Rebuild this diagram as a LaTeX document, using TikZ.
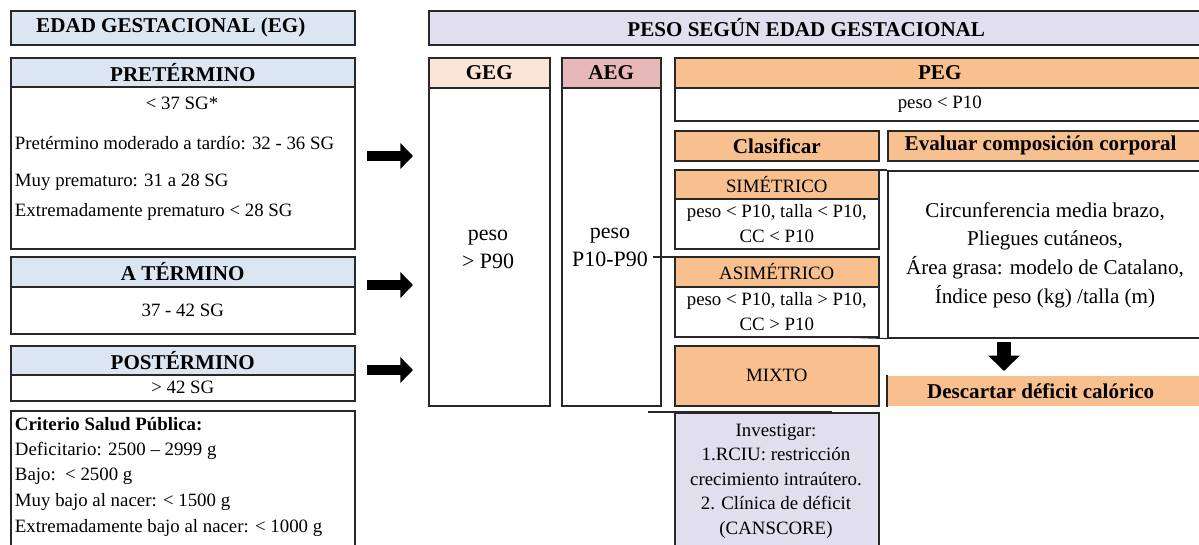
\documentclass[tikz,border=0pt]{standalone}
\usepackage{fontspec}
\setmainfont{Liberation Serif}
\definecolor{HeadBlue}{RGB}{220,230,241}
\definecolor{Lavender}{RGB}{225,222,237}
\definecolor{PeachLight}{RGB}{252,228,214}
\definecolor{RoseHead}{RGB}{230,184,183}
\definecolor{OrangeCell}{RGB}{248,192,142}
\definecolor{LineGray}{RGB}{40,40,40}
\usetikzlibrary{arrows.meta}
\def\pu{0.025cm}
\tikzset{
  box/.style={draw=LineGray, line width=1.1pt, inner sep=0pt, anchor=north west},
  hd/.style={font=\fontsize{15}{18}\selectfont\bfseries},
  tx/.style={font=\fontsize{13.4}{17.4}\selectfont},
  bigtx/.style={font=\fontsize{15.6}{20}\selectfont},
  blockarrow/.style={line width=6.5pt, -{Triangle[length=9pt,width=18pt]}},
}

\begin{document}
\begin{tikzpicture}[x=0.025cm, y=-0.025cm]
  \useasboundingbox (0,0) rectangle (1199,545);
  % Left column: edad gestacional
  \node[box, hd, fill=HeadBlue, minimum width=344*\pu, minimum height=34*\pu] (eg) at (10,10) {\hspace*{-17pt}EDAD GESTACIONAL (EG)};
  \node[box, hd, fill=HeadBlue, minimum width=344*\pu, minimum height=29*\pu] (pret) at (10,57) {PRETÉRMINO};
  \node[box, minimum width=344*\pu, minimum height=162*\pu] (pretbody) at (10,86) {};
  \node[tx] (pret0) at (182,103) {< 37 SG*};
  \node[tx, anchor=west] (pret1) at (10,143) {Pretérmino moderado a tardío: 32 - 36 SG};
  \node[tx, anchor=west] (pret2) at (10,182) {Muy prematuro: 31 a 28 SG};
  \node[tx, anchor=west] (pret3) at (10,212) {Extremadamente prematuro < 28 SG};
  \node[box, hd, fill=HeadBlue, minimum width=344*\pu, minimum height=30*\pu] (term) at (10,256) {A TÉRMINO};
  \node[box, tx, minimum width=344*\pu, minimum height=47*\pu] (termbody) at (10,286) {37 - 42 SG};
  \node[box, hd, fill=HeadBlue, minimum width=344*\pu, minimum height=29*\pu] (post) at (10,345) {POSTÉRMINO};
  \node[box, tx, minimum width=344*\pu, minimum height=26*\pu] (postbody) at (10,374) {> 42 SG};
  % Criterio salud publica
  \node[box, minimum width=344*\pu, minimum height=145*\pu] (crit) at (10,410) {};
  \node[tx, anchor=west, font=\fontsize{13.4}{17.4}\selectfont\bfseries] (crit0) at (10,424) {Criterio Salud Pública:};
  \node[tx, anchor=west] (crit1) at (10,451) {Deficitario: 2500 – 2999 g};
  \node[tx, anchor=west] (crit2) at (10,476) {Bajo:\ \ < 2500 g};
  \node[tx, anchor=west] (crit3) at (10,502) {Muy bajo al nacer: < 1500 g};
  \node[tx, anchor=west] (crit4) at (10,528) {Extremadamente bajo al nacer: < 1000 g};
  % Arrows to the weight columns
  \coordinate (a1) at (367,156); \coordinate (b1) at (413,156);
  \coordinate (a2) at (367,285); \coordinate (b2) at (413,285);
  \coordinate (a3) at (367,370); \coordinate (b3) at (413,370);
  \draw[blockarrow] (a1) -- (b1);
  \draw[blockarrow] (a2) -- (b2);
  \draw[blockarrow] (a3) -- (b3);
  % Right block: peso segun edad gestacional
  \node[box, hd, fill=Lavender, minimum width=776*\pu, minimum height=34*\pu] (peso) at (428,10) {\hspace*{-15pt}PESO SEGÚN EDAD GESTACIONAL};
  % GEG and AEG columns
  \node[box, hd, fill=PeachLight, minimum width=121*\pu, minimum height=30*\pu] (geg) at (428,57) {GEG};
  \node[box, minimum width=121*\pu, minimum height=318*\pu] (gegbody) at (428,87) {};
  \node[bigtx, align=center] (gegtx) at (488,249) {peso\\> P90};
  \node[box, hd, fill=RoseHead, minimum width=99*\pu, minimum height=30*\pu] (aeg) at (561,57) {AEG};
  \node[box, minimum width=99*\pu, minimum height=318*\pu] (aegbody) at (561,87) {};
  \node[bigtx, align=center] (aegtx) at (610,247) {peso\\P10-P90};
  % PEG
  \node[box, hd, fill=OrangeCell, minimum width=530*\pu, minimum height=30*\pu] (peg) at (674,57) {PEG};
  \node[box, tx, minimum width=530*\pu, minimum height=33*\pu] (pegbody) at (674,87) {peso < P10};
  \node[box, hd, fill=OrangeCell, minimum width=204*\pu, minimum height=30*\pu] (clas) at (674,130) {Clasificar};
  \node[box, hd, fill=OrangeCell, minimum width=317*\pu, minimum height=30*\pu] (eval) at (887,130) {\hspace*{-8pt}Evaluar composición corporal};
  % Clasificar
  \node[box, tx, fill=OrangeCell, minimum width=204*\pu, minimum height=29*\pu] (sim) at (674,169) {SIMÉTRICO};
  \node[box, tx, align=center, minimum width=204*\pu, minimum height=50*\pu] (simbody) at (674,198) {peso < P10, talla < P10,\\CC < P10};
  \node[box, tx, fill=OrangeCell, minimum width=204*\pu, minimum height=30*\pu] (asim) at (674,256) {ASIMÉTRICO};
  \node[box, tx, align=center, minimum width=204*\pu, minimum height=50*\pu] (asimbody) at (674,286) {peso < P10, talla > P10,\\CC > P10};
  \node[box, tx, fill=OrangeCell, minimum width=204*\pu, minimum height=60*\pu] (mixto) at (674,345) {MIXTO};
  \node[box, fill=Lavender, minimum width=204*\pu, minimum height=143*\pu] (inv) at (674,412) {};
  \node[tx, align=center] (invtx) at (776,481) {Investigar:\\1.RCIU: restricción\\crecimiento intraútero.\\2. Clínica de déficit\\(CANSCORE)};
  % Evaluar composicion corporal
  \node[box, minimum width=317*\pu, minimum height=167*\pu] (evalbody) at (887,170) {};
  \node[font=\fontsize{15}{20.4}\selectfont, align=center] (evaltx) at (1045,255) {Circunferencia media brazo,\\Pliegues cutáneos,\\Área grasa: modelo de Catalano,\\Índice peso (kg) /talla (m)};
  \coordinate (d1) at (1004,342); \coordinate (d2) at (1004,371);
  \draw[line width=10.5pt, -{Triangle[length=11pt,width=22pt]}] (d1) -- (d2);
  \node[box, hd, fill=OrangeCell, draw=none, minimum width=317*\pu, minimum height=30*\pu] (desc) at (887,375) {\hspace*{-8pt}Descartar déficit calórico};
  \draw[LineGray, line width=1.1pt] (desc.north west) -- (desc.south west);
  % Loose lines
  \draw[LineGray, line width=0.8pt] (aegtx.east |- 0,257) -- (832,257);
  \draw[LineGray, line width=0.8pt] (648,412) -- (832,412);
  \draw[LineGray, line width=0.8pt] (840,170) -- (evalbody.north west);
  \draw[LineGray, line width=0.8pt] (840,337) -- (evalbody.south west);
\end{tikzpicture}
\end{document}
